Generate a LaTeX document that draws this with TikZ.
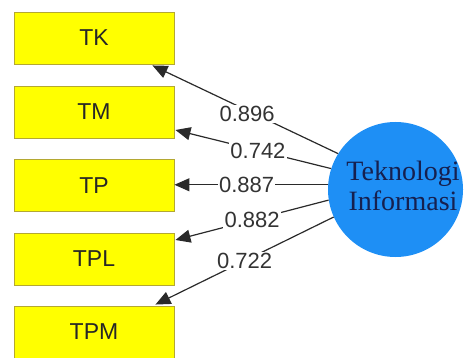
\documentclass[tikz,border=0pt]{standalone}
\usepackage{fontspec}
\setmainfont{Liberation Sans}
\newfontfamily\serifface{Liberation Serif}
\usetikzlibrary{arrows.meta,calc}
\definecolor{boxfill}{HTML}{FFFF00}
\definecolor{boxedge}{HTML}{B4A832}
\definecolor{latent}{HTML}{1E8FF5}
\definecolor{latenttext}{HTML}{16204F}
\definecolor{linkgray}{HTML}{2A2A2A}
\tikzset{
  indicator/.style={draw=boxedge, line width=0.9pt, fill=boxfill,
    minimum width=160pt, minimum height=52pt, inner sep=0pt,
    font=\fontsize{23}{23}\selectfont, text=black!85},
  construct/.style={circle, fill=latent, minimum size=135pt, inner sep=0pt},
  loading/.style={draw=linkgray, line width=1.2pt,
    -{Triangle[length=15pt,width=13pt]}},
  weight/.style={fill=white, inner sep=1.2pt, text=black!80,
    font=\fontsize{22}{22}\selectfont}
}
\begin{document}
\begin{tikzpicture}[x=1pt,y=-1pt]
  \useasboundingbox (0,0) rectangle (465,358);

  % indicator boxes
  \node[indicator] (TK)  at (94,38)    {TK};
  \node[indicator] (TM)  at (94,112)   {TM};
  \node[indicator] (TP)  at (94,185.5) {TP};
  \node[indicator] (TPL) at (94,259)   {TPL};
  \node[indicator] (TPM) at (94,332)   {TPM};

  % latent construct
  \node[construct] (TI) at (395.5,189.5) {};
  \node[align=center, text=latenttext, font=\serifface\fontsize{28}{30}\selectfont,
        inner sep=0pt] (TIlabel) at (403,186) {Teknologi\\Informasi};

  % arrow tips on the boxes
  \coordinate (tTK)  at ($(TK.south east)+(-22,1)$);
  \coordinate (tTM)  at ($(TM.east)+(1,18)$);
  \coordinate (tTPL) at ($(TPL.east)+(1,-19)$);
  \coordinate (tTPM) at ($(TPM.north east)+(-19,-1)$);

  % outer loadings
  \draw[loading] (TI.148) -- node[weight, pos=0.49, yshift=-4pt] {0.896} (tTK);
  \draw[loading] (TI.162) -- node[weight, pos=0.47] {0.742} (tTM);
  \draw[loading] (TI.176) -- node[weight, pos=0.53] {0.887} (TI.176 -| TP.east);
  \draw[loading] (TI.189) -- node[weight, pos=0.50] {0.882} (tTPL);
  \draw[loading] (TI.204) -- node[weight, pos=0.50] {0.722} (tTPM);
\end{tikzpicture}
\end{document}
